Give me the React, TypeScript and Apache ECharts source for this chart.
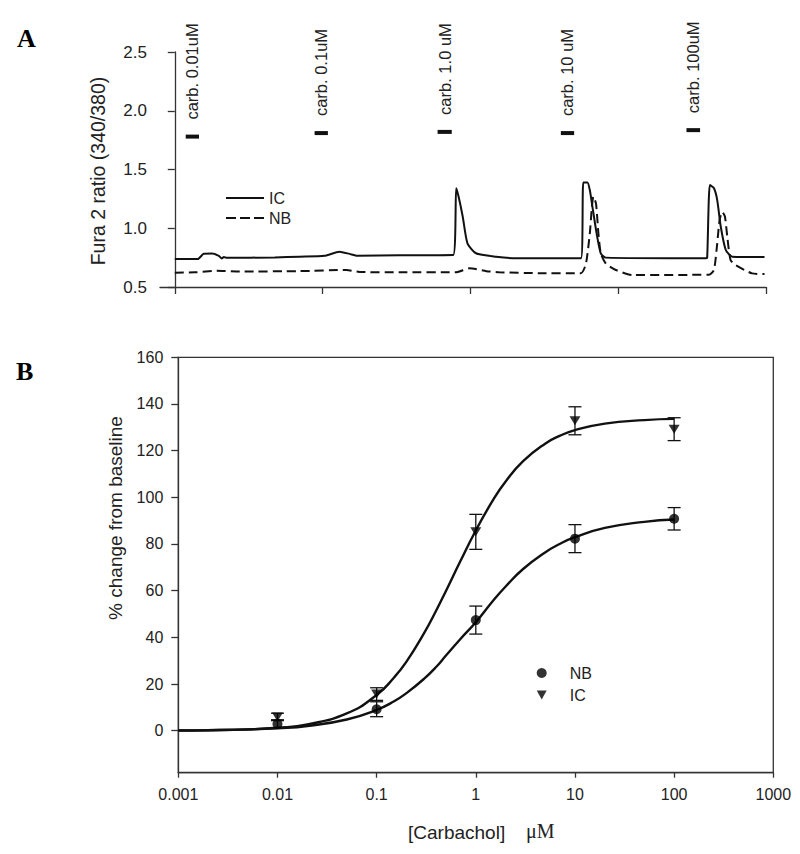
import React, { useEffect, useRef } from "react";
import * as echarts from "echarts";

// ---------- Panel A: Fura-2 ratio traces ----------
const TRACE_T_IC = [0, 78, 98, 125, 149, 159, 166, 176, 338, 422, 507, 557, 591, 618, 760, 942, 952, 960, 974, 990, 1019, 1087, 1155, 1374, 1382, 1396, 1404, 1413, 1427, 1441, 1458, 1796, 1801, 1810, 1824, 1835, 1847, 1864, 1886, 1995];
const TRACE_IC = [0.738, 0.738, 0.783, 0.785, 0.765, 0.742, 0.756, 0.748, 0.752, 0.758, 0.765, 0.8, 0.782, 0.766, 0.77, 0.772, 1.34, 1.27, 1.1, 0.872, 0.787, 0.758, 0.744, 0.744, 1.39, 1.39, 1.325, 1.18, 0.957, 0.787, 0.75, 0.744, 0.75, 1.368, 1.34, 1.24, 1.013, 0.815, 0.758, 0.755];
const TRACE_T_NB = [0, 68, 142, 220, 422, 581, 625, 760, 952, 997, 1054, 1098, 1233, 1374, 1391, 1404, 1411, 1416, 1425, 1433, 1441, 1458, 1492, 1548, 1807, 1824, 1835, 1843, 1852, 1861, 1869, 1880, 1897, 1953, 1995];
const TRACE_NB = [0.622, 0.625, 0.638, 0.632, 0.635, 0.645, 0.628, 0.625, 0.625, 0.659, 0.635, 0.625, 0.618, 0.618, 0.7, 0.957, 1.18, 1.27, 1.21, 0.957, 0.787, 0.7, 0.645, 0.602, 0.605, 0.645, 0.872, 1.07, 1.14, 1.1, 0.928, 0.73, 0.687, 0.616, 0.61];
const A_X_TICKS = [0, 500, 1000, 1500, 2000];
const CARB_LABELS = ["carb. 0.01uM", "carb. 0.1uM", "carb. 1.0 uM", "carb. 10 uM", "carb. 100uM"];
const CARB_T0 = [37, 473, 889, 1306, 1731];
const CARB_T1 = [82, 518, 937, 1351, 1777];
const CARB_Y = [1.78, 1.81, 1.82, 1.81, 1.835];

// ---------- Panel B: concentration-response ----------
const CONC = [0.01, 0.1, 1, 10, 100];
const NB_MEAN = [2.9, 9.2, 47.4, 82.3, 90.8];
const NB_ERR = [1.8, 3.2, 6.0, 6.0, 4.8];
const IC_MEAN = [5.9, 15.7, 85.2, 132.8, 129.2];
const IC_ERR = [1.6, 2.7, 7.5, 6.0, 4.9];
const FIT_CONC = [0.001, 0.002, 0.005, 0.01, 0.02, 0.05, 0.1, 0.15, 0.2, 0.3, 0.4, 0.5, 0.7, 1, 1.5, 2, 3, 5, 7, 10, 20, 50, 100];
const FIT_IC = [0.09, 0.2, 0.57, 1.24, 2.7, 7.4, 15.3, 22.8, 29.6, 41.7, 51.6, 59.9, 72.7, 85.8, 99.0, 106.8, 115.5, 123.0, 126.3, 128.8, 131.6, 133.1, 133.6];
const FIT_NB = [0.11, 0.22, 0.53, 1.04, 2.02, 4.8, 8.9, 12.6, 16.1, 22.2, 27.4, 32.2, 39.3, 46.5, 55.8, 61.8, 69.3, 76.4, 80.0, 82.9, 86.9, 89.5, 90.5];
const B_Y_TICKS = [0, 20, 40, 60, 80, 100, 120, 140, 160];

const SANS = '"Liberation Sans", Arial, sans-serif';
const SERIF = '"Liberation Serif", "Times New Roman", serif';
const INK = "#111";
const TXT = "#222";
const SOLID_ICON = "path://M0,0h38v2.2h-38z";
const DASH_ICON = "path://M0,0h10v2.2h-10z M14,0h10v2.2h-10z M28,0h10v2.2h-10z";
const TRI_DOWN = "path://M0,0L10,0L5,9Z";

const zip = (a: number[], b: number[]) => a.map((v, i) => [v, b[i]]);

export default function App() {
  const ref = useRef<HTMLDivElement>(null);
  useEffect(() => {
    if (!ref.current) return;
    const chart = echarts.init(ref.current, null, { renderer: "svg" });

    const errRender = (params: any, api: any) => {
      const x = api.value(0);
      const lo = api.coord([x, api.value(1)]);
      const hi = api.coord([x, api.value(2)]);
      const w = 6.5;
      const st = { stroke: INK, lineWidth: 1.3 };
      return {
        type: "group",
        children: [
          { type: "line", shape: { x1: lo[0], y1: lo[1], x2: hi[0], y2: hi[1] }, style: st },
          { type: "line", shape: { x1: lo[0] - w, y1: lo[1], x2: lo[0] + w, y2: lo[1] }, style: st },
          { type: "line", shape: { x1: hi[0] - w, y1: hi[1], x2: hi[0] + w, y2: hi[1] }, style: st },
        ],
      };
    };

    const option: any = {
      animation: false,
      backgroundColor: "#fff",
      grid: [
        { left: 160, right: 34, top: 52, height: 235, show: false },
        { left: 178.3, right: 26.7, top: 357.3, height: 415.4, show: true, borderColor: "#333", borderWidth: 1.3 },
      ],
      xAxis: [
        {
          type: "value",
          gridIndex: 0,
          min: -50,
          max: 2000,
          axisLine: { show: true, onZero: false, lineStyle: { color: "#333", width: 1.3 } },
          axisTick: { show: true, length: 7, customValues: A_X_TICKS, lineStyle: { color: "#333", width: 1.3 } },
          axisLabel: { show: false },
          splitLine: { show: false },
        },
        {
          type: "log",
          logBase: 10,
          gridIndex: 1,
          min: 0.001,
          max: 1000,
          axisLine: { show: true, onZero: false, lineStyle: { color: "#333", width: 1.3 } },
          axisTick: { show: true, length: 5, lineStyle: { color: "#333", width: 1.3 } },
          axisLabel: {
            margin: 14,
            fontFamily: SANS,
            fontSize: 16,
            color: TXT,
            formatter: (v: number) => String(Number(v.toPrecision(3))),
          },
          minorTick: { show: false },
          splitLine: { show: false },
        },
      ],
      yAxis: [
        {
          type: "value",
          gridIndex: 0,
          min: 0.5,
          max: 2.5,
          interval: 0.5,
          axisLine: { show: true, lineStyle: { color: "#333", width: 1.3 } },
          axisTick: { show: true, length: 7, lineStyle: { color: "#333", width: 1.3 } },
          axisLabel: { margin: 13, fontFamily: SANS, fontSize: 17, color: TXT, formatter: (v: number) => v.toFixed(1) },
          splitLine: { show: false },
        },
        {
          type: "value",
          gridIndex: 1,
          min: -18,
          max: 160,
          axisLine: { show: true, lineStyle: { color: "#333", width: 1.3 } },
          axisTick: { show: true, length: 7, customValues: B_Y_TICKS, lineStyle: { color: "#333", width: 1.3 } },
          axisLabel: { margin: 15, fontFamily: SANS, fontSize: 16, color: TXT, customValues: B_Y_TICKS },
          splitLine: { show: false },
        },
      ],
      legend: [
        {
          data: [
            { name: "IC trace", icon: SOLID_ICON },
            { name: "NB trace", icon: DASH_ICON },
          ],
          orient: "vertical",
          left: 221,
          top: 185,
          itemWidth: 38,
          itemHeight: 14,
          itemGap: 4,
          formatter: (n: string) => n.split(" ")[0],
          textStyle: { fontFamily: SANS, fontSize: 16, color: TXT, lineHeight: 16 },
          selectedMode: false,
        },
        {
          data: [
            { name: "NB mean", icon: "circle" },
            { name: "IC mean", icon: TRI_DOWN },
          ],
          orient: "vertical",
          left: 531.7,
          top: 660,
          itemWidth: 10,
          itemHeight: 10,
          itemGap: 6,
          formatter: (n: string) => n.split(" ")[0],
          textStyle: { fontFamily: SANS, fontSize: 16, color: TXT, lineHeight: 16, padding: [0, 0, 0, 18] },
          selectedMode: false,
        },
      ],
      graphic: [
        { type: "text", left: 17, top: 25, style: { text: "A", font: `bold 26px ${SERIF}`, fill: "#000" } },
        { type: "text", left: 16, top: 358, style: { text: "B", font: `bold 26px ${SERIF}`, fill: "#000" } },
        {
          type: "text",
          x: 98,
          y: 171,
          rotation: Math.PI / 2,
          style: { text: "Fura 2 ratio (340/380)", font: `19.5px ${SANS}`, fill: TXT, align: "center", verticalAlign: "middle" },
        },
        {
          type: "text",
          x: 115,
          y: 518,
          rotation: Math.PI / 2,
          style: { text: "% change from baseline", font: `19px ${SANS}`, fill: TXT, align: "center", verticalAlign: "middle" },
        },
        {
          type: "text",
          x: 408,
          y: 832,
          style: { text: "[Carbachol]", font: `19px ${SANS}`, fill: TXT, align: "left", verticalAlign: "middle" },
        },
        {
          type: "text",
          x: 526,
          y: 831,
          style: { text: "μM", font: `20px ${SERIF}`, fill: TXT, align: "left", verticalAlign: "middle" },
        },
      ],
      series: [
        {
          name: "IC trace",
          type: "line",
          xAxisIndex: 0,
          yAxisIndex: 0,
          data: zip(TRACE_T_IC, TRACE_IC),
          showSymbol: false,
          symbol: "none",
          smooth: 0.2,
          lineStyle: { color: INK, width: 2 },
          itemStyle: { color: INK },
        },
        {
          name: "NB trace",
          type: "line",
          xAxisIndex: 0,
          yAxisIndex: 0,
          data: zip(TRACE_T_NB, TRACE_NB),
          showSymbol: false,
          symbol: "none",
          smooth: 0.2,
          lineStyle: { color: INK, width: 2, type: [9, 5] },
          itemStyle: { color: INK },
        },
        {
          name: "carb",
          type: "custom",
          xAxisIndex: 0,
          yAxisIndex: 0,
          data: CARB_T0.map((t, i) => [t, CARB_T1[i], CARB_Y[i]]),
          renderItem: (params: any, api: any) => {
            const p0 = api.coord([api.value(0), api.value(2)]);
            const p1 = api.coord([api.value(1), api.value(2)]);
            return {
              type: "group",
              children: [
                { type: "line", shape: { x1: p0[0], y1: p0[1], x2: p1[0], y2: p1[1] }, style: { stroke: INK, lineWidth: 4 } },
                {
                  type: "text",
                  x: (p0[0] + p1[0]) / 2,
                  y: p0[1] - 17,
                  rotation: Math.PI / 2,
                  style: {
                    text: CARB_LABELS[params.dataIndex],
                    font: `16.5px ${SANS}`,
                    fill: TXT,
                    align: "left",
                    verticalAlign: "middle",
                  },
                },
              ],
            };
          },
        },
        {
          name: "IC fit",
          type: "line",
          xAxisIndex: 1,
          yAxisIndex: 1,
          data: zip(FIT_CONC, FIT_IC),
          showSymbol: false,
          symbol: "none",
          smooth: 0.5,
          lineStyle: { color: INK, width: 2.4 },
        },
        {
          name: "NB fit",
          type: "line",
          xAxisIndex: 1,
          yAxisIndex: 1,
          data: zip(FIT_CONC, FIT_NB),
          showSymbol: false,
          symbol: "none",
          smooth: 0.5,
          lineStyle: { color: INK, width: 2.4 },
        },
        {
          name: "NB err",
          type: "custom",
          xAxisIndex: 1,
          yAxisIndex: 1,
          data: CONC.map((c, i) => [c, NB_MEAN[i] - NB_ERR[i], NB_MEAN[i] + NB_ERR[i]]),
          renderItem: errRender,
        },
        {
          name: "IC err",
          type: "custom",
          xAxisIndex: 1,
          yAxisIndex: 1,
          data: CONC.map((c, i) => [c, IC_MEAN[i] - IC_ERR[i], IC_MEAN[i] + IC_ERR[i]]),
          renderItem: errRender,
        },
        {
          name: "NB mean",
          type: "scatter",
          xAxisIndex: 1,
          yAxisIndex: 1,
          data: zip(CONC, NB_MEAN),
          symbol: "circle",
          symbolSize: 10,
          itemStyle: { color: "#000" },
          z: 5,
        },
        {
          name: "IC mean",
          type: "scatter",
          xAxisIndex: 1,
          yAxisIndex: 1,
          data: zip(CONC, IC_MEAN),
          symbol: TRI_DOWN,
          symbolSize: [11, 9],
          itemStyle: { color: "#000" },
          z: 5,
        },
      ],
    };
    chart.setOption(option);
    return () => chart.dispose();
  }, []);
  return <div ref={ref} style={{ position: "absolute", left: 0, top: 0, width: 800, height: 854, background: "#fff" }} />;
}
